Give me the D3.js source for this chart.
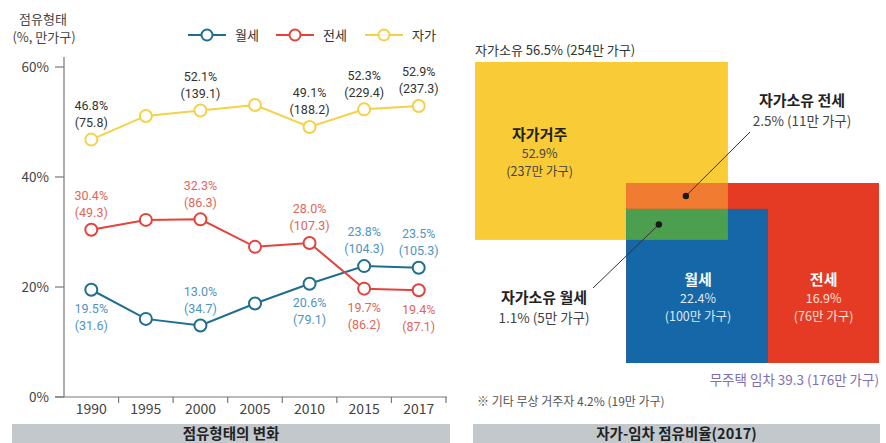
<!DOCTYPE html>
<html>
<head>
<meta charset="utf-8">
<script src="https://cdn.jsdelivr.net/npm/d3@7"></script>
<style>
  body { margin: 0; background: #fff; }
  svg { display: block; font-family: "Noto Sans CJK KR", "Noto Sans", sans-serif; }
</style>
</head>
<body>
<div id="chart"></div>
<script>
// ===== 데이터 =====
const years = ["1990", "1995", "2000", "2005", "2010", "2015", "2017"];
const wolseRate  = [19.5, 14.2, 13.0, 17.0, 20.6, 23.8, 23.5];
const jeonseRate = [30.4, 32.2, 32.3, 27.3, 28.0, 19.7, 19.4];
const jagaRate   = [46.8, 51.1, 52.1, 53.1, 49.1, 52.3, 52.9];
// 만 가구 (라벨 없는 해는 null)
const wolseHh  = [31.6, null, 34.7, null, 79.1, 104.3, 105.3];
const jeonseHh = [49.3, null, 86.3, null, 107.3, 86.2, 87.1];
const jagaHh   = [75.8, null, 139.1, null, 188.2, 229.4, 237.3];
const yTicks = [0, 20, 40, 60];

// 2017 자가-임차 점유비율
const shareNames  = ["자가거주", "자가소유 전세", "자가소유 월세", "월세", "전세"];
const sharePct    = [52.9, 2.5, 1.1, 22.4, 16.9];
const shareHh     = [237, 11, 5, 100, 76];
const ownTotal    = {pct: 56.5, hh: 254};
const rentTotal   = {pct: 39.3, hh: 176};
const otherTotal  = {pct: 4.2, hh: 19};

// ===== 스타일/배치 =====
const W = 886, H = 443;
const colors = {
  wolse: "#1f6e8f", wolseText: "#4f94bf",
  jeonse: "#e4433b", jeonseText: "#e06656",
  jaga: "#f3d247", jagaText: "#333",
  yellow: "#f9cb37", orange: "#ef7c30", green: "#4b9f4f",
  blue: "#1667a7", red: "#e53b24", bar: "#c3c8cd"
};
const numFont = "Roboto, 'Noto Sans', sans-serif";
// 라벨 위치: 1 = 위, -1 = 아래
const wolseSide  = [-1, 0, 1, 0, -1, 1, 1];
const jeonseSide = [1, 0, 1, 0, 1, -1, -1];
const jagaSide   = [1, 0, 1, 0, 1, 1, 1];

const svg = d3.select("#chart").append("svg")
  .attr("width", W).attr("height", H);

// ===== 왼쪽: 점유형태의 변화 =====
const x = d3.scaleBand().domain(years).range([64, 446]);
const y = d3.scaleLinear().domain([0, 60]).range([397, 67]);
const cx = d => x(d) + x.bandwidth() / 2;

// y 축
svg.append("line")
  .attr("x1", 64).attr("x2", 64).attr("y1", 57).attr("y2", y(0))
  .attr("stroke", "#777").attr("stroke-width", 1.2);
svg.append("g").selectAll("line").data(yTicks).join("line")
  .attr("x1", 55).attr("x2", 64)
  .attr("y1", d => y(d)).attr("y2", d => y(d))
  .attr("stroke", "#777").attr("stroke-width", 1.2);
svg.append("g").selectAll("text").data(yTicks).join("text")
  .attr("x", 49).attr("y", d => y(d)).attr("dy", "0.35em")
  .attr("text-anchor", "end").attr("font-size", 13.5).attr("fill", "#444")
  .text(d => d + "%");

// x 축
svg.append("line")
  .attr("x1", 55).attr("x2", 447).attr("y1", y(0)).attr("y2", y(0))
  .attr("stroke", "#777").attr("stroke-width", 1.2);
svg.append("g").selectAll("line").data(years).join("line")
  .attr("x1", d => x(d) + x.bandwidth()).attr("x2", d => x(d) + x.bandwidth())
  .attr("y1", y(0)).attr("y2", y(0) + 6)
  .attr("stroke", "#777").attr("stroke-width", 1.2);
svg.append("g").selectAll("text").data(years).join("text")
  .attr("x", d => cx(d)).attr("y", y(0) + 12).attr("dy", "0.35em")
  .attr("text-anchor", "middle").attr("font-size", 14).attr("fill", "#444")
  .text(d => d);

// 축 제목
svg.append("text").attr("x", 43).attr("y", 19).attr("dy", "0.35em")
  .attr("text-anchor", "middle").attr("font-size", 13).attr("fill", "#444")
  .text("점유형태");
svg.append("text").attr("x", 44).attr("y", 37).attr("dy", "0.35em")
  .attr("text-anchor", "middle").attr("font-size", 13).attr("fill", "#444")
  .text("(%, 만가구)");

const series = [
  {name: "월세", rate: wolseRate, hh: wolseHh, side: wolseSide, line: colors.wolse, text: colors.wolseText},
  {name: "전세", rate: jeonseRate, hh: jeonseHh, side: jeonseSide, line: colors.jeonse, text: colors.jeonseText},
  {name: "자가", rate: jagaRate, hh: jagaHh, side: jagaSide, line: colors.jaga, text: colors.jagaText}
];

const lineGen = d3.line().x(d => cx(d.year)).y(d => y(d.v));

series.forEach(s => {
  const pts = years.map((yr, i) => ({year: yr, v: s.rate[i], hh: s.hh[i], side: s.side[i]}));
  svg.append("path").datum(pts)
    .attr("d", lineGen).attr("fill", "none")
    .attr("stroke", s.line).attr("stroke-width", 2);
  svg.append("g").selectAll("circle").data(pts).join("circle")
    .attr("cx", d => cx(d.year)).attr("cy", d => y(d.v)).attr("r", 6)
    .attr("fill", "#fff").attr("stroke", s.line).attr("stroke-width", 2);

  const lab = svg.append("g").selectAll("g").data(pts.filter(d => d.hh !== null)).join("g")
    .attr("transform", d => `translate(${cx(d.year)},${y(d.v)})`)
    .attr("font-family", numFont)
    .attr("font-size", 12.5).attr("fill", s.text).attr("text-anchor", "middle");
  lab.append("text")
    .attr("y", d => d.side > 0 ? -34 : 19).attr("dy", "0.35em")
    .text(d => d.v.toFixed(1) + "%");
  lab.append("text")
    .attr("y", d => d.side > 0 ? -17 : 36).attr("dy", "0.35em")
    .text(d => "(" + d.hh.toFixed(1) + ")");
});

// 범례
const legendX = [207, 295, 384];
const lg = svg.append("g").selectAll("g").data(series).join("g")
  .attr("transform", (d, i) => `translate(${legendX[i]},35)`);
lg.append("line").attr("x1", -19).attr("x2", 19)
  .attr("stroke", d => d.line).attr("stroke-width", 2);
lg.append("circle").attr("r", 5.5).attr("fill", "#fff")
  .attr("stroke", d => d.line).attr("stroke-width", 2);
lg.append("text").attr("x", 28).attr("dy", "0.35em")
  .attr("font-size", 13).attr("fill", "#333").text(d => d.name);

// ===== 오른쪽: 자가-임차 점유비율(2017) =====
const gx = d3.scaleLinear().domain([0, 100]).range([475, 879]);
const gy = d3.scaleLinear().domain([0, 100]).range([62, 363]);
// 블록 배치 (그리드 단위)
const blocks = [
  {key: "own",    x0: 0,    x1: 62.6, y0: 0,    y1: 59.1, fill: colors.yellow},
  {key: "rent",   x0: 37.4, x1: 100,  y0: 40.2, y1: 100,  fill: colors.red},
  {key: "wolse",  x0: 37.4, x1: 72.5, y0: 48.8, y1: 100,  fill: colors.blue},
  {key: "ownJeon", x0: 37.4, x1: 62.6, y0: 40.2, y1: 48.8, fill: colors.orange},
  {key: "ownWol",  x0: 37.4, x1: 62.6, y0: 48.8, y1: 59.1, fill: colors.green}
];
svg.append("g").selectAll("rect").data(blocks).join("rect")
  .attr("x", d => gx(d.x0)).attr("y", d => gy(d.y0))
  .attr("width", d => gx(d.x1) - gx(d.x0))
  .attr("height", d => gy(d.y1) - gy(d.y0))
  .attr("fill", d => d.fill);

svg.append("text").attr("x", gx(0)).attr("y", 50).attr("dy", "0.35em")
  .attr("font-size", 13).attr("fill", "#333")
  .text(`자가소유 ${ownTotal.pct}% (${ownTotal.hh}만 가구)`);

function block3(xc, yc, i, nameColor, valColor) {
  const g = svg.append("g").attr("text-anchor", "middle");
  g.append("text").attr("x", xc).attr("y", yc).attr("dy", "0.35em")
    .attr("font-size", 15).attr("font-weight", "bold").attr("fill", nameColor)
    .text(shareNames[i]);
  g.append("text").attr("x", xc).attr("y", yc + 19).attr("dy", "0.35em")
    .attr("font-size", 12.5).attr("fill", valColor)
    .text(sharePct[i].toFixed(1) + "%");
  g.append("text").attr("x", xc).attr("y", yc + 37).attr("dy", "0.35em")
    .attr("font-size", 12.5).attr("fill", valColor)
    .text(`(${shareHh[i]}만 가구)`);
}
block3(gx(16), 135, 0, "#222", "#444");
block3(gx(55.2), 280, 3, "#fff", "#dde9f5");
block3(gx(86.3), 280, 4, "#fff", "#fbe0d8");

function callout(xc, yc, i) {
  const g = svg.append("g").attr("text-anchor", "middle");
  g.append("text").attr("x", xc).attr("y", yc).attr("dy", "0.35em")
    .attr("font-size", 15).attr("font-weight", "bold").attr("fill", "#222")
    .text(shareNames[i]);
  g.append("text").attr("x", xc).attr("y", yc + 20).attr("dy", "0.35em")
    .attr("font-size", 13.5).attr("fill", "#444")
    .text(`${sharePct[i]}% (${shareHh[i]}만 가구)`);
}
callout(802, 101, 1);
callout(544, 298, 2);

// 지시선
const leaders = [
  {x1: 750, y1: 132, x2: gx(52.2), y2: gy(44.5)},
  {x1: 593, y1: 288, x2: gx(45.5), y2: gy(54)}
];
svg.append("g").selectAll("line").data(leaders).join("line")
  .attr("x1", d => d.x1).attr("y1", d => d.y1).attr("x2", d => d.x2).attr("y2", d => d.y2)
  .attr("stroke", "#333").attr("stroke-width", 1);
svg.append("g").selectAll("circle").data(leaders).join("circle")
  .attr("cx", d => d.x2).attr("cy", d => d.y2).attr("r", 3.2).attr("fill", "#1a1a1a");

svg.append("text").attr("x", gx(100)).attr("y", 380).attr("dy", "0.35em")
  .attr("text-anchor", "end").attr("font-size", 13.5).attr("fill", "#7d70b4")
  .text(`무주택 임차 ${rentTotal.pct} (${rentTotal.hh}만 가구)`);
svg.append("text").attr("x", 477).attr("y", 402).attr("dy", "0.35em")
  .attr("font-size", 12).attr("fill", "#555")
  .text(`※ 기타 무상 거주자 ${otherTotal.pct}% (${otherTotal.hh}만 가구)`);

// ===== 하단 제목 바 =====
const bars = [
  {x0: 12, x1: 450, label: "점유형태의 변화"},
  {x0: 473, x1: 880, label: "자가-임차 점유비율(2017)"}
];
const bg = svg.append("g").selectAll("g").data(bars).join("g");
bg.append("rect").attr("x", d => d.x0).attr("y", 424)
  .attr("width", d => d.x1 - d.x0).attr("height", 19).attr("fill", colors.bar);
bg.append("text").attr("x", d => (d.x0 + d.x1) / 2).attr("y", 434).attr("dy", "0.35em")
  .attr("text-anchor", "middle").attr("font-size", 14.5).attr("font-weight", "bold")
  .attr("fill", "#222").text(d => d.label);
</script>
</body>
</html>
